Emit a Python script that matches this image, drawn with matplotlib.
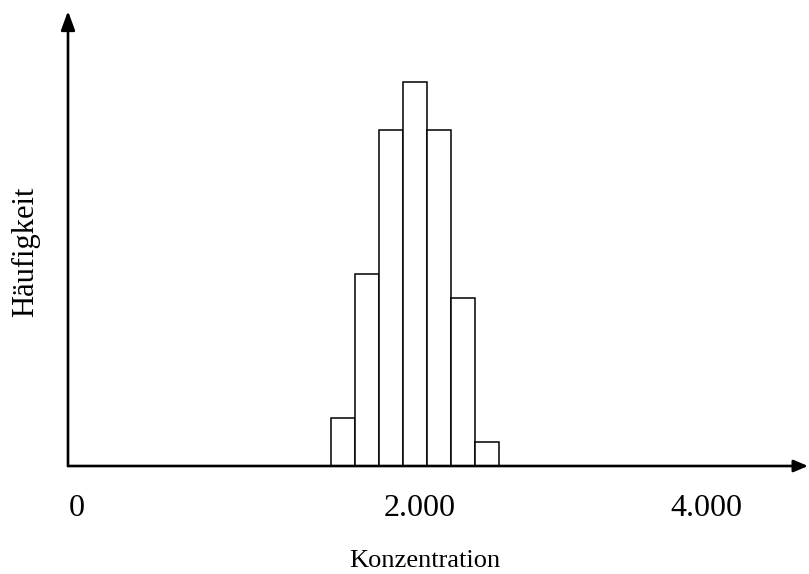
import numpy as np
import matplotlib
matplotlib.use('Agg')
import matplotlib.pyplot as plt

# histogram data (schematic): class edges in concentration units and counts per class
bin_edges = [1650, 1750, 1850, 1950, 2050, 2150, 2250, 2350]
counts = [2, 8, 14, 16, 14, 7, 1]

# tick labels on the concentration axis (the sketch is not to scale)
tick_labels = ['0', '2.000', '4.000']
tick_pos = [592, 2021, 3212]

plt.rcParams['font.family'] = ['Liberation Serif', 'DejaVu Serif']

fig = plt.figure(figsize=(8.09, 5.74), dpi=100)
# axes box in pixels: x 68..808, y 11..466
W, H = 809, 574
ax = fig.add_axes([68 / W, (H - 466) / H, 740 / W, 455 / H])

widths = np.diff(bin_edges)
ax.bar(bin_edges[:-1], counts, width=widths, align='edge',
       facecolor='white', edgecolor='black', linewidth=1.1, zorder=2)

ax.set_xlim(554, 3637.5)
ax.set_ylim(0, 455 / 24)

for s in ax.spines.values():
    s.set_visible(False)

# axes drawn as arrows
ax.annotate('', xy=(0, 1), xytext=(0, 0), xycoords='axes fraction',
            arrowprops=dict(arrowstyle='-|>,head_length=1.15,head_width=0.42',
                            mutation_scale=10, lw=1.9, color='black',
                            shrinkA=0, shrinkB=0), zorder=3)
ax.annotate('', xy=(1, 0), xytext=(0, 0), xycoords='axes fraction',
            arrowprops=dict(arrowstyle='-|>,head_length=0.85,head_width=0.36',
                            mutation_scale=10, lw=1.9, color='black',
                            shrinkA=0, shrinkB=0), zorder=3)

ax.set_xticks(tick_pos, tick_labels, fontsize=23)
ax.tick_params(axis='x', length=0, pad=20)
ax.set_yticks([])

ax.set_xlabel('Konzentration', fontsize=19)
ax.xaxis.set_label_coords((425 - 68) / 740, (466 - 567) / 455)
ax.xaxis.label.set_va('baseline')

ax.set_ylabel('Häufigkeit', fontsize=22)
ax.yaxis.set_label_coords((26 - 68) / 740, (466 - 252) / 455)
ax.yaxis.label.set_va('center')

fig.savefig('out.png', dpi=100)
